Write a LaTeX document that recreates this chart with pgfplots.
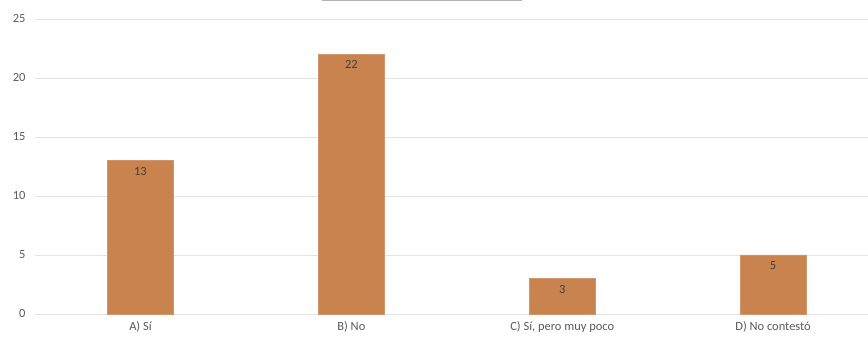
\documentclass[border=0pt]{standalone}
\usepackage{pgfplots}
\pgfplotsset{compat=1.18}
\usepackage{fontspec}
\setmainfont{Carlito}
\definecolor{barc}{HTML}{C8834E}
\definecolor{gridc}{HTML}{E3E3E3}
\definecolor{txtc}{HTML}{595959}
\begin{document}
\begin{tikzpicture}
\useasboundingbox (-35bp,-25bp) rectangle (833bp,314bp);
\begin{axis}[
  at={(0,0)}, anchor=south west,
  scale only axis,
  width=833bp, height=295bp,
  xmin=-0.5, xmax=3.45,
  ymin=0, ymax=25,
  ytick={0,5,10,15,20,25},
  xtick={0,1,2,3},
  xticklabels={A) Sí, B) No, {C) Sí, pero muy poco}, D) No contestó},
  axis line style={draw=none},
  major tick length=0pt,
  ymajorgrids,
  grid style={gridc, line width=0.8pt},
  tick label style={font=\fontsize{12.5}{14}\selectfont, text=txtc},
  yticklabel style={xshift=-6bp},
  xticklabel style={yshift=-4bp},
  /pgf/number format/assume math mode=true,
  ybar, bar width=66bp,
  clip=false,
  nodes near coords,
  every node near coord/.append style={anchor=north, yshift=-3bp, font=\fontsize{12.5}{14}\selectfont, text=black!75},
]
\addplot[fill=barc, draw=barc!85!white] coordinates {(0,13) (1,22) (2,3) (3,5)};
\end{axis}
\draw[gray!60, line width=1.2pt] (287bp,313.5bp) -- (487bp,313.5bp);
\end{tikzpicture}
\end{document}
